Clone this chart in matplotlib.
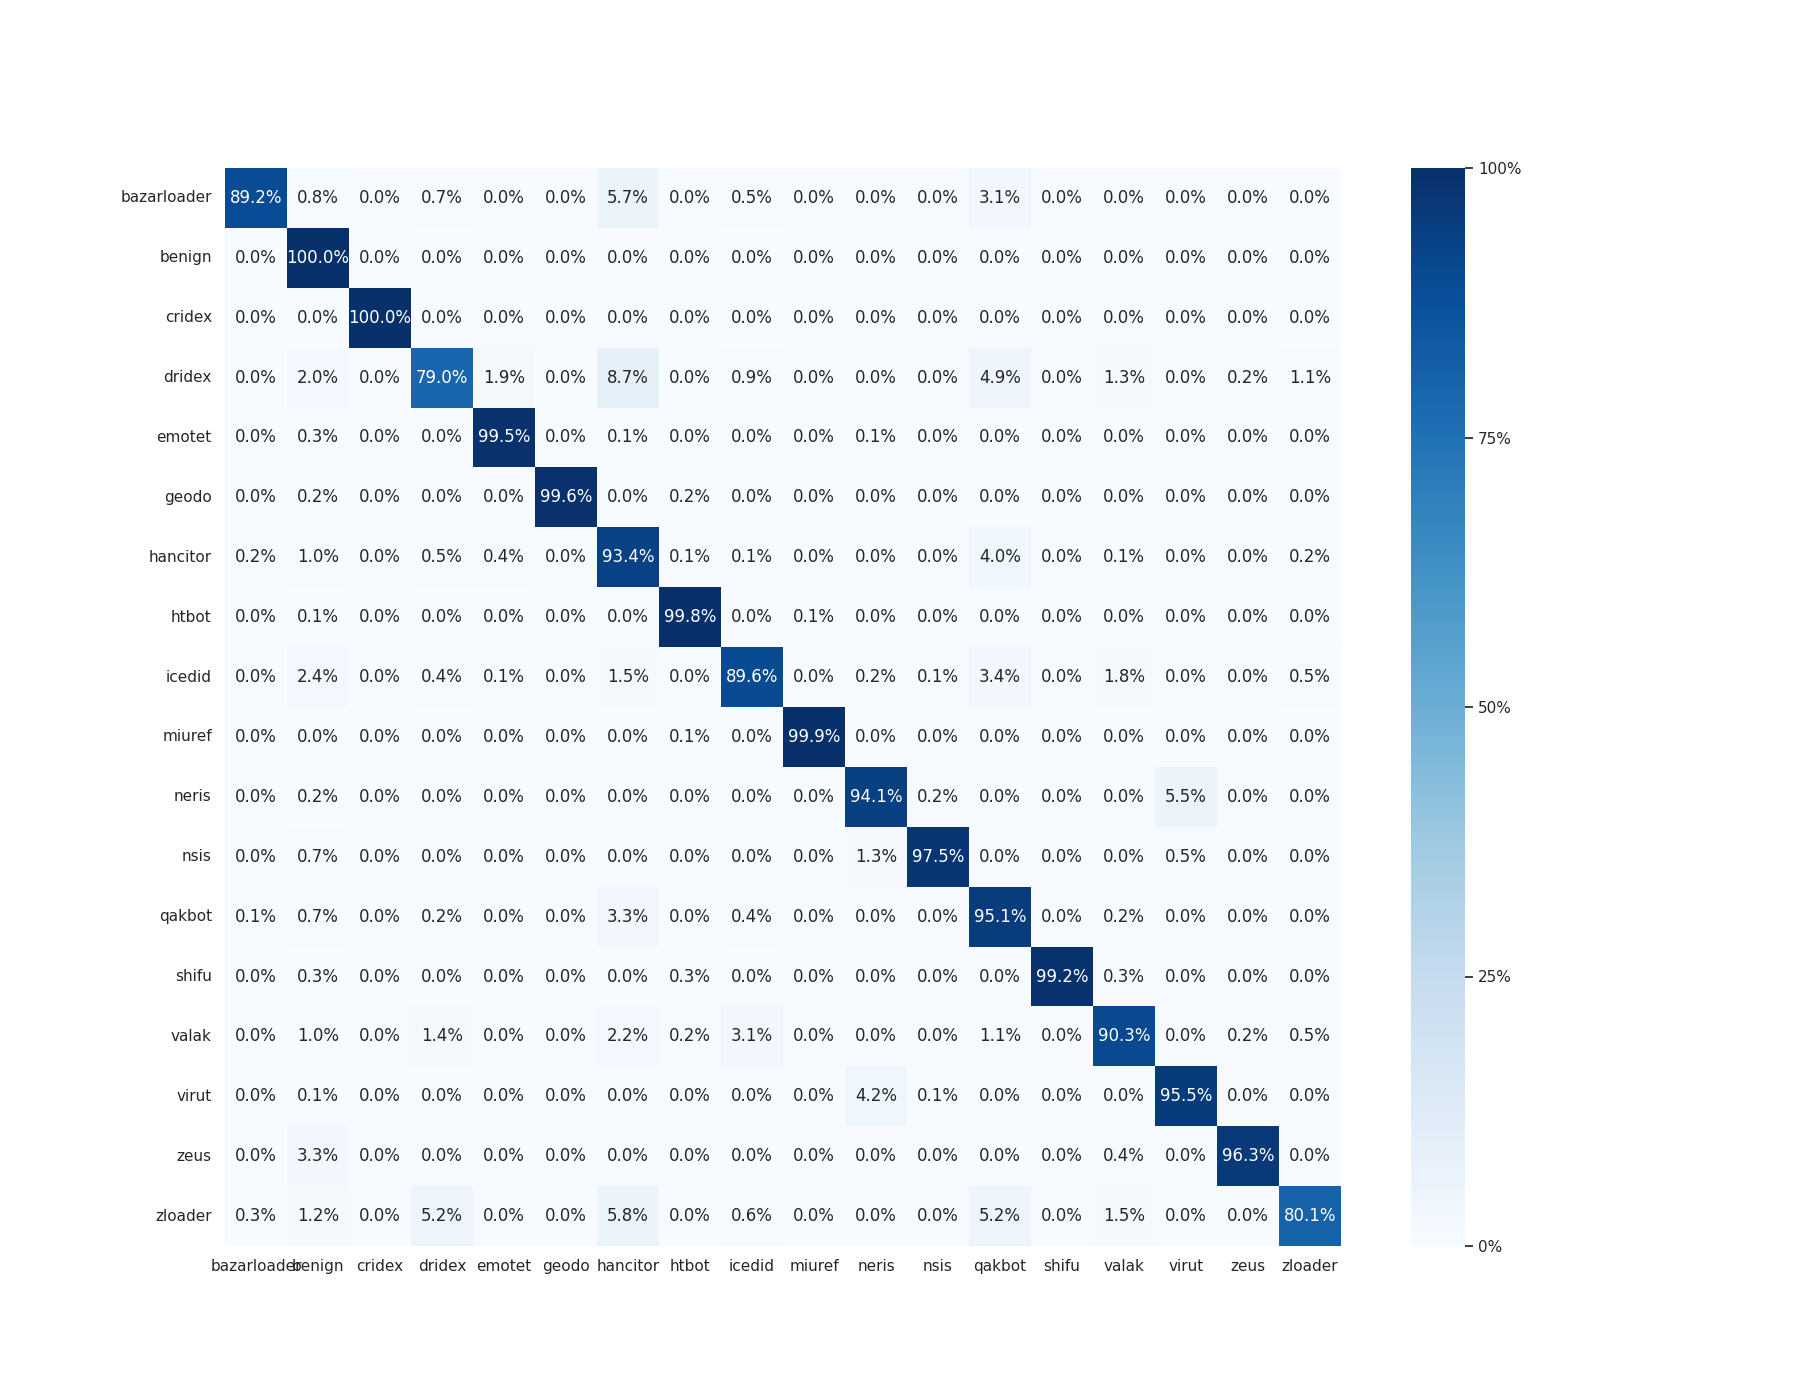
import matplotlib
matplotlib.use("Agg")
import matplotlib.pyplot as plt
import numpy as np
import seaborn as sns
from matplotlib.ticker import PercentFormatter

sns.set_theme()

labels = ["bazarloader", "benign", "cridex", "dridex", "emotet", "geodo", "hancitor",
          "htbot", "icedid", "miuref", "neris", "nsis", "qakbot", "shifu", "valak",
          "virut", "zeus", "zloader"]

r_bazarloader = [89.2, 0.8, 0.0, 0.7, 0.0, 0.0, 5.7, 0.0, 0.5, 0.0, 0.0, 0.0, 3.1, 0.0, 0.0, 0.0, 0.0, 0.0]
r_benign      = [0.0, 100.0, 0.0, 0.0, 0.0, 0.0, 0.0, 0.0, 0.0, 0.0, 0.0, 0.0, 0.0, 0.0, 0.0, 0.0, 0.0, 0.0]
r_cridex      = [0.0, 0.0, 100.0, 0.0, 0.0, 0.0, 0.0, 0.0, 0.0, 0.0, 0.0, 0.0, 0.0, 0.0, 0.0, 0.0, 0.0, 0.0]
r_dridex      = [0.0, 2.0, 0.0, 79.0, 1.9, 0.0, 8.7, 0.0, 0.9, 0.0, 0.0, 0.0, 4.9, 0.0, 1.3, 0.0, 0.2, 1.1]
r_emotet      = [0.0, 0.3, 0.0, 0.0, 99.5, 0.0, 0.1, 0.0, 0.0, 0.0, 0.1, 0.0, 0.0, 0.0, 0.0, 0.0, 0.0, 0.0]
r_geodo       = [0.0, 0.2, 0.0, 0.0, 0.0, 99.6, 0.0, 0.2, 0.0, 0.0, 0.0, 0.0, 0.0, 0.0, 0.0, 0.0, 0.0, 0.0]
r_hancitor    = [0.2, 1.0, 0.0, 0.5, 0.4, 0.0, 93.4, 0.1, 0.1, 0.0, 0.0, 0.0, 4.0, 0.0, 0.1, 0.0, 0.0, 0.2]
r_htbot       = [0.0, 0.1, 0.0, 0.0, 0.0, 0.0, 0.0, 99.8, 0.0, 0.1, 0.0, 0.0, 0.0, 0.0, 0.0, 0.0, 0.0, 0.0]
r_icedid      = [0.0, 2.4, 0.0, 0.4, 0.1, 0.0, 1.5, 0.0, 89.6, 0.0, 0.2, 0.1, 3.4, 0.0, 1.8, 0.0, 0.0, 0.5]
r_miuref      = [0.0, 0.0, 0.0, 0.0, 0.0, 0.0, 0.0, 0.1, 0.0, 99.9, 0.0, 0.0, 0.0, 0.0, 0.0, 0.0, 0.0, 0.0]
r_neris       = [0.0, 0.2, 0.0, 0.0, 0.0, 0.0, 0.0, 0.0, 0.0, 0.0, 94.1, 0.2, 0.0, 0.0, 0.0, 5.5, 0.0, 0.0]
r_nsis        = [0.0, 0.7, 0.0, 0.0, 0.0, 0.0, 0.0, 0.0, 0.0, 0.0, 1.3, 97.5, 0.0, 0.0, 0.0, 0.5, 0.0, 0.0]
r_qakbot      = [0.1, 0.7, 0.0, 0.2, 0.0, 0.0, 3.3, 0.0, 0.4, 0.0, 0.0, 0.0, 95.1, 0.0, 0.2, 0.0, 0.0, 0.0]
r_shifu       = [0.0, 0.3, 0.0, 0.0, 0.0, 0.0, 0.0, 0.3, 0.0, 0.0, 0.0, 0.0, 0.0, 99.2, 0.3, 0.0, 0.0, 0.0]
r_valak       = [0.0, 1.0, 0.0, 1.4, 0.0, 0.0, 2.2, 0.2, 3.1, 0.0, 0.0, 0.0, 1.1, 0.0, 90.3, 0.0, 0.2, 0.5]
r_virut       = [0.0, 0.1, 0.0, 0.0, 0.0, 0.0, 0.0, 0.0, 0.0, 0.0, 4.2, 0.1, 0.0, 0.0, 0.0, 95.5, 0.0, 0.0]
r_zeus        = [0.0, 3.3, 0.0, 0.0, 0.0, 0.0, 0.0, 0.0, 0.0, 0.0, 0.0, 0.0, 0.0, 0.0, 0.4, 0.0, 96.3, 0.0]
r_zloader     = [0.3, 1.2, 0.0, 5.2, 0.0, 0.0, 5.8, 0.0, 0.6, 0.0, 0.0, 0.0, 5.2, 0.0, 1.5, 0.0, 0.0, 80.1]

rows = [r_bazarloader, r_benign, r_cridex, r_dridex, r_emotet, r_geodo, r_hancitor,
        r_htbot, r_icedid, r_miuref, r_neris, r_nsis, r_qakbot, r_shifu, r_valak,
        r_virut, r_zeus, r_zloader]
data = np.array(rows) / 100.0

fig, ax = plt.subplots(figsize=(18, 14), dpi=100)
sns.heatmap(data, annot=True, fmt=".1%", cmap="Blues", vmin=0, vmax=1,
            xticklabels=labels, yticklabels=labels, ax=ax,
            cbar_kws={"format": PercentFormatter(1.0, decimals=0),
                      "ticks": [0, 0.25, 0.5, 0.75, 1.0]})
ax.set_xticklabels(labels, rotation=0)
ax.set_yticklabels(labels, rotation=0)
fig.savefig("out.png", dpi=100)
